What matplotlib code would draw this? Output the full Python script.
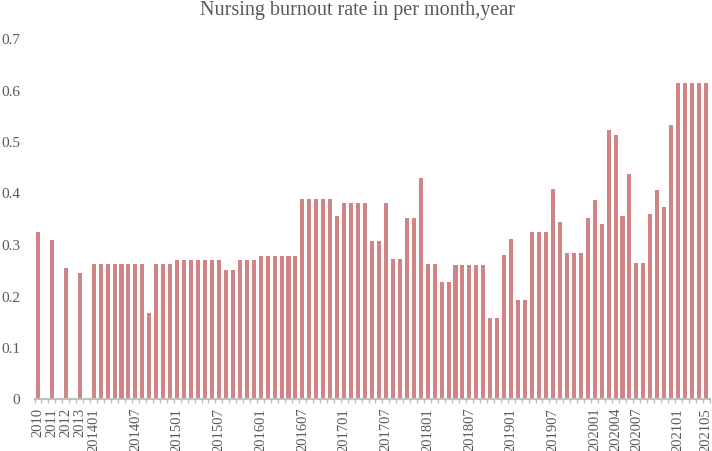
import numpy as np
import matplotlib
matplotlib.use("Agg")
import matplotlib.pyplot as plt
from matplotlib.ticker import FixedLocator, NullFormatter

# ---- data ----
years = ['2010', '2011', '2012', '2013']
year_vals = [0.323, 0.308, 0.253, 0.243]

months = [f"{y}{m:02d}" for y in range(2014, 2022) for m in range(1, 13)][:89]
month_vals = [
    # 2014
    0.261, 0.261, 0.261, 0.261, 0.261, 0.261, 0.261, 0.261, 0.166, 0.261, 0.261, 0.261,
    # 2015
    0.268, 0.268, 0.268, 0.268, 0.268, 0.268, 0.268, 0.250, 0.250, 0.268, 0.268, 0.268,
    # 2016
    0.276, 0.276, 0.276, 0.276, 0.276, 0.276, 0.387, 0.387, 0.387, 0.387, 0.387, 0.354,
    # 2017
    0.380, 0.380, 0.380, 0.380, 0.305, 0.305, 0.380, 0.270, 0.270, 0.350, 0.350, 0.428,
    # 2018
    0.261, 0.261, 0.226, 0.226, 0.259, 0.259, 0.259, 0.259, 0.259, 0.156, 0.156, 0.279,
    # 2019
    0.310, 0.192, 0.192, 0.323, 0.323, 0.323, 0.407, 0.342, 0.282, 0.282, 0.282, 0.351,
    # 2020
    0.385, 0.338, 0.522, 0.512, 0.354, 0.435, 0.263, 0.263, 0.358, 0.404, 0.372, 0.532,
    # 2021
    0.612, 0.612, 0.612, 0.612, 0.612,
]
shown_labels = ['2010', '2011', '2012', '2013',
                '201401', '201407', '201501', '201507', '201601', '201607',
                '201701', '201707', '201801', '201807', '201901', '201907',
                '202001', '202004', '202007', '202101', '202105']
title = "Nursing burnout rate in per month,year"
y_ticks = [0, 0.1, 0.2, 0.3, 0.4, 0.5, 0.6, 0.7]
y_ticklabels = ['0', '0.1', '0.2', '0.3', '0.4', '0.5', '0.6', '0.7']

# ---- build category axis (years separated by empty slots) ----
cats, vals = [], []
for y, v in zip(years, year_vals):
    cats += [y, '']
    vals += [v, np.nan]
cats += months
vals += month_vals
x = np.arange(len(cats))

# ---- style ----
plt.rcParams['font.family'] = ['Liberation Serif', 'DejaVu Serif']
gray_text = '#595959'
bar_color = '#D18486'
axis_color = '#BFBFBF'

fig = plt.figure(figsize=(7.12, 4.52), dpi=100)
ax = fig.add_axes([34.5 / 712, 1 - 399.5 / 452, (709.5 - 34.5) / 712, (399.5 - 39) / 452])

ax.bar(x, vals, width=0.58, color=bar_color, zorder=2)

ax.set_xlim(-0.5, len(cats) - 0.5)
ax.set_ylim(0, 0.7)

for s in ['top', 'right', 'left']:
    ax.spines[s].set_visible(False)
ax.spines['bottom'].set_color(axis_color)
ax.spines['bottom'].set_linewidth(1.5)

# y ticks
ax.set_yticks(y_ticks)
ax.set_yticklabels(y_ticklabels)
ax.tick_params(axis='y', length=0, pad=10.5, labelsize=11, labelcolor=gray_text)

# x ticks: labels only at selected categories
pos = [i for i, c in enumerate(cats) if c in shown_labels]
ax.set_xticks(pos)
ax.set_xticklabels([cats[i] for i in pos], rotation=90, ha='center', va='top')
ax.tick_params(axis='x', which='major', length=0, pad=6, labelsize=10.5, labelcolor=gray_text)
# minor ticks at category boundaries
ax.xaxis.set_minor_locator(FixedLocator(np.arange(-0.5, len(cats) + 0.5, 1.0)))
ax.xaxis.set_minor_formatter(NullFormatter())
ax.tick_params(axis='x', which='minor', length=3, width=1, color=axis_color, direction='out')

fig.text(0.5025, 1 - 15 / 452, title, ha='center', va='baseline', fontsize=14.5, color=gray_text)

fig.savefig('out.png', dpi=100)
